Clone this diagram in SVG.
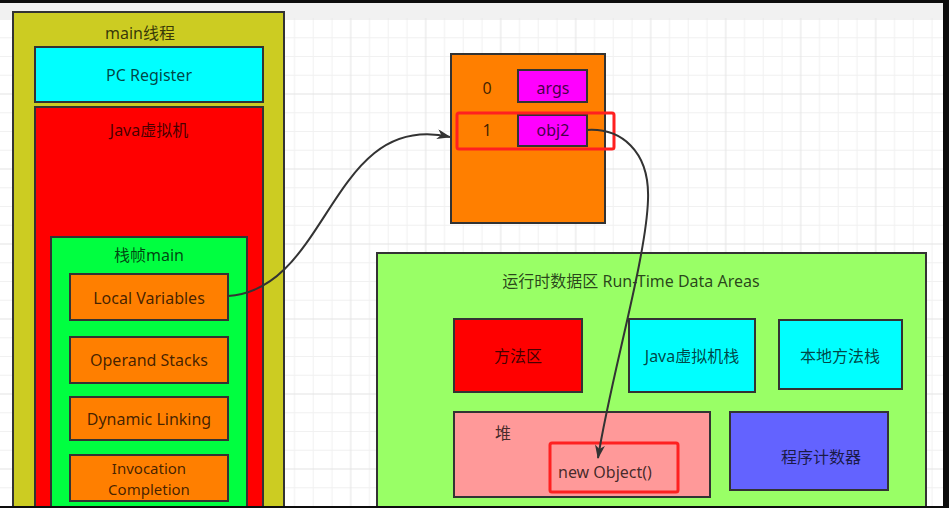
<svg xmlns="http://www.w3.org/2000/svg" width="949" height="508" viewBox="0 0 949 508">
<style>
.box{stroke:#333333;stroke-width:2}
.t{font-family:"Noto Sans","Noto Sans CJK SC",sans-serif;font-size:16px;fill:#000;fill-opacity:0.74;text-anchor:middle;dominant-baseline:central}
.s{font-size:15px}
.hl{fill:none;stroke:#FF2020;stroke-width:3}
.edge{fill:none;stroke:#333333;stroke-width:2}
</style>
<defs>
<pattern id="grid" x="50.7" y="19" width="75" height="75" patternUnits="userSpaceOnUse">
<rect x="0" y="0" width="75" height="75" fill="#ffffff"/>
<g fill="#f1f1f1">
<rect x="18.25" y="0" width="1" height="75"/>
<rect x="37" y="0" width="1" height="75"/>
<rect x="55.75" y="0" width="1" height="75"/>
<rect x="0" y="18.25" width="75" height="1"/>
<rect x="0" y="37" width="75" height="1"/>
<rect x="0" y="55.75" width="75" height="1"/>
</g>
<g fill="#e4e4e4">
<rect x="-0.5" y="0" width="1" height="75"/>
<rect x="0" y="-0.5" width="75" height="1"/>
<rect x="74.5" y="0" width="1" height="75"/>
<rect x="0" y="74.5" width="75" height="1"/>
</g>
</pattern>
<marker id="arr" viewBox="0 0 14 10" markerWidth="14" markerHeight="10" refX="13" refY="5" orient="auto" markerUnits="userSpaceOnUse">
<path d="M0,0 L14,5 L0,10 L4,5 z" fill="#333333"/>
</marker>
</defs>

<rect x="0" y="0" width="949" height="508" fill="url(#grid)"/>
<rect x="0" y="3" width="949" height="15" fill="#f1f1f1"/>

<g id="main-thread">
<rect class="box" x="13" y="12" width="271" height="520" fill="#CCCC22"/>
<text class="t" x="140" y="33">main线程</text>
</g>
<g id="pc-register">
<rect class="box" x="35" y="47" width="228" height="55" fill="#00FFFF"/>
<text class="t" x="149" y="75">PC Register</text>
</g>
<g id="jvm-stack">
<rect class="box" x="35" y="107" width="228" height="420" fill="#FF0000"/>
<text class="t" x="149" y="130">Java虚拟机</text>
</g>
<g id="frame-main">
<rect class="box" x="51" y="237" width="196" height="290" fill="#00FF40"/>
<text class="t" x="149" y="255">栈帧main</text>
</g>
<g id="local-variables">
<rect class="box" x="70" y="274" width="158" height="46" fill="#FF7F00"/>
<text class="t" x="149" y="297.5">Local Variables</text>
</g>
<g id="operand-stacks">
<rect class="box" x="70" y="337" width="158" height="46" fill="#FF7F00"/>
<text class="t" x="149" y="360">Operand Stacks</text>
</g>
<g id="dynamic-linking">
<rect class="box" x="70" y="397" width="158" height="43" fill="#FF7F00"/>
<text class="t" x="149" y="419">Dynamic Linking</text>
</g>
<g id="invocation-completion">
<rect class="box" x="70" y="455" width="158" height="46" fill="#FF7F00"/>
<text class="t s" x="149" y="467.5">Invocation</text>
<text class="t s" x="149" y="488.5">Completion</text>
</g>

<g id="local-var-table">
<rect class="box" x="451" y="54" width="154" height="169" fill="#FF7F00"/>
<text class="t" x="487" y="88">0</text>
<text class="t" x="487" y="130">1</text>
</g>
<g id="args">
<rect class="box" x="518" y="70" width="69" height="32" fill="#FF00FF"/>
<text class="t" x="553" y="88">args</text>
</g>
<g id="obj2">
<rect class="box" x="518" y="115" width="69" height="31" fill="#FF00FF"/>
<text class="t" x="553" y="130">obj2</text>
</g>
<g id="slot1-highlight">
<rect class="hl" x="457" y="113" width="157" height="36" rx="2"/>
</g>

<g id="runtime-data-areas">
<rect class="box" x="377" y="253" width="549" height="280" fill="#99FF66"/>
<text class="t" x="631" y="281">运行时数据区 Run-Time Data Areas</text>
</g>
<g id="method-area">
<rect class="box" x="454" y="319" width="128" height="73" fill="#FF0000"/>
<text class="t" x="518" y="356">方法区</text>
</g>
<g id="jvm-stacks">
<rect class="box" x="629" y="319" width="126" height="73" fill="#00FFFF"/>
<text class="t" x="692" y="356">Java虚拟机栈</text>
</g>
<g id="native-method-stack">
<rect class="box" x="779" y="320" width="123" height="69" fill="#00FFFF"/>
<text class="t" x="840" y="356">本地方法栈</text>
</g>
<g id="heap">
<rect class="box" x="454" y="412" width="256" height="85" fill="#FF9999"/>
<text class="t" x="503" y="433">堆</text>
</g>
<g id="new-object">
<rect class="hl" x="550" y="443" width="128" height="49" rx="2"/>
<text class="t" x="558" y="472" style="text-anchor:start">new Object()</text>
</g>
<g id="program-counter">
<rect class="box" x="730" y="412" width="158" height="78" fill="#6363FF"/>
<text class="t" x="821" y="457">程序计数器</text>
</g>

<g id="connectors">
<path class="edge" d="M228,296 C330,290 330,110 450,137" marker-end="url(#arr)"/>
<path class="edge" d="M587,130 C620,128 650,150 648,200 C646,260 610,380 598,458" marker-end="url(#arr)"/>
</g>

<rect x="0" y="0" width="949" height="3" fill="#0d0d0d"/>
<rect x="943" y="0" width="6" height="508" fill="#0d0d0d"/>
<rect x="0" y="506" width="949" height="2" fill="#0d0d0d"/>
</svg>
